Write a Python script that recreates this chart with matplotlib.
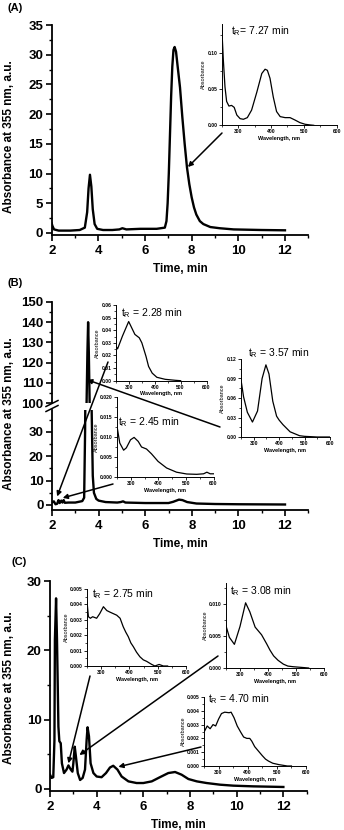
import matplotlib
matplotlib.use("Agg")
import matplotlib.pyplot as plt
from matplotlib.ticker import MultipleLocator, FormatStrFormatter
from matplotlib.lines import Line2D

plt.rcParams['font.family'] = ['Liberation Sans', 'DejaVu Sans']
plt.rcParams['mathtext.default'] = 'regular'

# ---------------- data ----------------
# Panel A chromatogram
a_time = [2.0, 2.03, 2.1, 2.3, 2.8, 3.2, 3.42, 3.52, 3.58, 3.64, 3.7, 3.76, 3.84, 3.95, 4.2, 4.6,
          4.9, 5.03, 5.2, 5.8, 6.5, 6.85, 6.92, 6.97, 7.02, 7.07, 7.12, 7.17, 7.22, 7.27, 7.33, 7.4,
          7.5, 7.6, 7.7, 7.8, 7.9, 8.0, 8.1, 8.2, 8.35, 8.5, 8.8, 9.2, 9.8, 11.0, 12.0]
a_abs = [1.6, 1.2, 0.6, 0.4, 0.4, 0.5, 0.9, 3.5, 7.5, 9.8, 7.8, 4.0, 1.5, 0.7, 0.5, 0.5,
         0.6, 0.8, 0.6, 0.7, 0.7, 0.9, 2.0, 5.0, 10.0, 16.5, 23.0, 28.0, 30.8, 31.3, 30.5, 28.0,
         24.5, 19.5, 15.0, 11.0, 8.2, 6.0, 4.3, 3.1, 2.0, 1.5, 1.0, 0.8, 0.6, 0.5, 0.45]
a_wl = [250, 255, 260, 265, 272, 280, 288, 296, 306, 316, 328, 341, 357, 372, 382, 389, 397, 407,
        417, 428, 443, 458, 473, 488, 504, 519, 530]
a_spec = [0.138, 0.090, 0.053, 0.033, 0.0266, 0.0275, 0.0248, 0.0142, 0.0092, 0.0083, 0.0106, 0.021,
          0.046, 0.0716, 0.0775, 0.076, 0.065, 0.039, 0.019, 0.012, 0.0106, 0.0106, 0.0073, 0.0037,
          0.0014, 0.0005, 0.0]

# Panel B chromatogram
b_time = [2.0, 2.08, 2.15, 2.22, 2.28, 2.33, 2.4, 2.45, 2.5, 2.55, 2.7, 3.0, 3.3, 3.38, 3.42, 3.47,
          3.52, 3.55, 3.58, 3.63, 3.7, 3.75, 3.8, 3.9, 4.0, 4.3, 4.8, 4.95, 5.05, 5.15, 6.0, 7.0,
          7.2, 7.45, 7.6, 7.8, 8.2, 9.0, 10.0, 12.0]
b_abs = [1.0, 1.5, 0.3, 0.5, 2.0, 0.8, 1.8, 1.0, 2.0, 0.9, 1.0, 1.0, 1.6, 3.0, 30.0, 90.0,
         125.0, 140.0, 125.0, 90.0, 40.0, 12.0, 5.0, 2.5, 1.8, 1.2, 1.0, 1.2, 1.5, 1.0, 0.8, 0.8,
         1.3, 2.2, 2.0, 1.2, 0.6, 0.4, 0.3, 0.2]
b1_wl = [250, 256, 275, 299, 323, 340, 350, 366, 376, 390, 408, 440, 480, 500]
b1_spec = [0.0273, 0.0252, 0.0354, 0.0469, 0.0367, 0.034, 0.030, 0.0193, 0.0113, 0.006, 0.0027,
           0.0011, 0.0003, 0.0]
b2_wl = [250, 260, 274, 284, 299, 312, 327, 339, 357, 375, 399, 430, 466, 503, 539, 564, 576, 588, 600]
b2_spec = [0.0127, 0.0085, 0.0067, 0.0073, 0.0093, 0.0099, 0.0089, 0.0075, 0.0070, 0.0058, 0.0039,
           0.00225, 0.0012, 0.00075, 0.00067, 0.0008, 0.0012, 0.0008, 0.0008]
b3_wl = [250, 260, 275, 295, 315, 333, 348, 360, 375, 390, 400, 415, 443, 480, 500, 550, 600]
b3_spec = [0.088, 0.062, 0.038, 0.023, 0.040, 0.090, 0.111, 0.097, 0.055, 0.032, 0.026, 0.019,
           0.008, 0.002, 0.001, 0.0, 0.0]

# Panel C chromatogram
c_time = [2.0, 2.07, 2.14, 2.19, 2.21, 2.26, 2.3, 2.36, 2.4, 2.46, 2.51, 2.6, 2.71, 2.79, 2.89,
          2.96, 3.0, 3.06, 3.11, 3.19, 3.29, 3.4, 3.5, 3.57, 3.61, 3.67, 3.74, 3.86, 4.0, 4.21,
          4.4, 4.57, 4.71, 4.89, 5.07, 5.36, 5.71, 6.0, 6.36, 6.71, 7.07, 7.36, 7.64, 7.93, 8.29,
          8.71, 9.29, 9.86, 10.71, 12.0]
c_abs = [2.06, 1.6, 1.7, 7.0, 21.5, 27.5, 21.5, 9.0, 6.9, 6.6, 3.7, 2.3, 2.8, 3.4, 2.8,
         2.5, 3.7, 6.1, 4.7, 2.3, 1.3, 1.6, 2.8, 7.1, 8.9, 7.6, 3.7, 2.3, 1.8, 1.7,
         2.3, 3.1, 3.35, 2.8, 1.8, 1.1, 0.86, 0.86, 1.1, 1.7, 2.3, 2.45, 2.06, 1.44, 1.1,
         0.86, 0.62, 0.48, 0.38, 0.29]
c1_wl = [250, 255, 262, 270, 284, 295, 308, 320, 331, 343, 355, 367, 378, 387, 396, 405, 414,
         425, 437, 449, 461, 470, 479, 490, 505, 520, 535]
c1_spec = [0.0042, 0.0032, 0.0031, 0.0032, 0.0031, 0.0034, 0.00385, 0.0036, 0.0035, 0.0034,
           0.0033, 0.0031, 0.00255, 0.0022, 0.0019, 0.0015, 0.00125, 0.0009, 0.0006, 0.0004,
           0.0003, 0.0002, 0.0001, 0.0, 0.0001, 0.0, 0.0]
c2_wl = [250, 262, 280, 300, 320, 335, 354, 377, 395, 407, 420, 436, 455, 471, 490, 518, 545]
c2_spec = [0.0066, 0.0048, 0.0037, 0.0065, 0.0102, 0.0088, 0.0064, 0.0052, 0.0038, 0.0028,
           0.0019, 0.0012, 0.0006, 0.0003, 0.0002, 0.0001, 0.0]
c3_wl = [250, 261, 271, 281, 290, 300, 310, 321, 336, 343, 353, 364, 376, 386, 397, 407, 414,
         424, 436, 450, 461, 471, 486, 507, 536, 550]
c3_spec = [0.00245, 0.0029, 0.0027, 0.0030, 0.0029, 0.0034, 0.0038, 0.0039, 0.00386, 0.0039,
           0.0035, 0.0029, 0.00245, 0.0021, 0.0020, 0.0020, 0.0018, 0.0014, 0.0011, 0.00075,
           0.0005, 0.00036, 0.0002, 0.0001, 0.0, 0.0]

x_ticks = [2, 4, 6, 8, 10, 12]
wl_ticks = [300, 400, 500, 600]

# ---------------- layout helpers ----------------
W, H = 344, 830
fig = plt.figure(figsize=(W / 100, H / 100), dpi=100)


def px_axes(x0, y0, x1, y1):
    return fig.add_axes([x0 / W, 1 - y1 / H, (x1 - x0) / W, (y1 - y0) / H])


def style_main(ax):
    for s in ['top', 'right']:
        ax.spines[s].set_visible(False)
    for s in ['left', 'bottom']:
        ax.spines[s].set_linewidth(1.3)
    ax.tick_params(which='major', direction='out', length=4, width=1.2,
                   labelsize=9.5, pad=2)
    ax.tick_params(axis='x', which='major', pad=3)
    ax.tick_params(which='minor', direction='out', length=2.2, width=1.0)
    for lab in ax.get_xticklabels() + ax.get_yticklabels():
        lab.set_fontweight('bold')
    ax.patch.set_alpha(0)


def set_xaxis(ax):
    ax.set_xlim(2, 13)
    ax.set_xticks(x_ticks)
    ax.xaxis.set_minor_locator(MultipleLocator(1))
    ax.set_xticklabels([str(t) for t in x_ticks], fontweight='bold')


def inset(x0, y0, x1, y1, wl, spec, ymax, ystep, fmt, label, tx, ty):
    ax = px_axes(x0, y0, x1, y1)
    ax.plot(wl, spec, color='black', lw=0.9)
    ax.set_xlim(250, 600)
    ax.set_ylim(0, ymax)
    ax.set_xticks(wl_ticks)
    ax.xaxis.set_minor_locator(MultipleLocator(50))
    ax.yaxis.set_major_locator(MultipleLocator(ystep))
    ax.yaxis.set_minor_locator(MultipleLocator(ystep / 2))
    ax.yaxis.set_major_formatter(FormatStrFormatter(fmt))
    for s in ['top', 'right']:
        ax.spines[s].set_visible(False)
    for s in ['left', 'bottom']:
        ax.spines[s].set_linewidth(0.7)
    ax.tick_params(which='major', direction='out', length=2, width=0.6, labelsize=3.6, pad=1)
    ax.tick_params(which='minor', direction='out', length=1.2, width=0.5)
    for lab in ax.get_xticklabels() + ax.get_yticklabels():
        lab.set_fontweight('bold')
    ax.set_xlabel('Wavelength, nm', fontsize=4, fontweight='bold', labelpad=1)
    ax.set_ylabel('Absorbance', fontsize=4, labelpad=1)
    ax.patch.set_alpha(0)
    ax.text(tx, ty, label, transform=ax.transAxes, fontsize=7.5, ha='left', va='center')
    return ax


arrow_kw = dict(arrowstyle='-|>', color='black', lw=1.1, mutation_scale=7,
                shrinkA=0, shrinkB=0)


def arrow(ax, tip, tail_px):
    ax.annotate('', xy=tip, xycoords='data',
                xytext=(tail_px[0] / W, 1 - tail_px[1] / H), textcoords='figure fraction',
                arrowprops=arrow_kw, annotation_clip=False)


# ---------------- Panel A ----------------
axA = px_axes(51.7, 25, 308.3, 235)
axA.plot(a_time, a_abs, color='black', lw=1.7)
set_xaxis(axA)
axA.set_ylim(-0.34, 35)
axA.set_yticks([0, 5, 10, 15, 20, 25, 30, 35])
axA.yaxis.set_minor_locator(MultipleLocator(2.5))
style_main(axA)
axA.set_xlabel('Time, min', fontsize=8.5, fontweight='bold', labelpad=4.5)
fig.text(9.5 / W, 1 - 137 / H, 'Absorbance at 355 nm, a.u.', rotation=90, fontsize=8.5,
         fontweight='bold', ha='center', va='center')
fig.text(7 / W, 1 - 8 / H, '(A)', fontsize=8, fontweight='bold', ha='left', va='center')
inset(221.7, 24, 336.7, 125.3, a_wl, a_spec, 0.14, 0.05, '%.2f',
      r't$_{\mathregular{R}}$= 7.27 min', 0.08, 0.93)
arrow(axA, (7.84, 11.1), (222, 133))

# ---------------- Panel B ----------------
axBu = px_axes(52, 302, 308.3, 403)
axBl = px_axes(52, 410, 308.3, 510)
for ax in (axBu, axBl):
    ax.plot(b_time, b_abs, color='black', lw=1.7)
    set_xaxis(ax)
axBu.set_ylim(100, 150)
axBu.set_yticks([100, 110, 120, 130, 140, 150])
axBu.yaxis.set_minor_locator(MultipleLocator(5))
axBl.set_ylim(-2.06, 39)
axBl.set_yticks([0, 10, 20, 30])
axBl.yaxis.set_minor_locator(MultipleLocator(5))
style_main(axBu)
style_main(axBl)
axBu.spines['bottom'].set_visible(False)
axBu.tick_params(axis='x', which='both', bottom=False, labelbottom=False)
axBl.set_xlabel('Time, min', fontsize=8.5, fontweight='bold', labelpad=4.5)
fig.text(9.5 / W, 1 - 414 / H, 'Absorbance at 355 nm, a.u.', rotation=90, fontsize=8.5,
         fontweight='bold', ha='center', va='center')
fig.text(7 / W, 1 - 283 / H, '(B)', fontsize=8, fontweight='bold', ha='left', va='center')
for yy in (403.5, 408.5):
    fig.add_artist(Line2D([46 / W, 58 / W], [1 - (yy + 3) / H, 1 - (yy - 3) / H],
                          color='black', lw=1.1))
inset(116, 305, 206.5, 380.7, b1_wl, b1_spec, 0.06, 0.01, '%.2f',
      r't$_{\mathregular{R}}$ = 2.28 min', 0.05, 0.89)
inset(117, 397, 213.5, 477, b2_wl, b2_spec, 0.02, 0.005, '%.3f',
      r't$_{\mathregular{R}}$ = 2.45 min', 0.01, 0.69)
inset(241, 359, 330, 437, b3_wl, b3_spec, 0.12, 0.03, '%.2f',
      r't$_{\mathregular{R}}$ = 3.57 min', 0.08, 1.08)
arrow(axBl, (2.22, 3.5), (108, 362))
arrow(axBl, (2.46, 2.9), (113, 484))
arrow(axBu, (3.51, 111.5), (220, 427))

# ---------------- Panel C ----------------
axC = px_axes(50, 581, 306.7, 791)
axC.plot(c_time, c_abs, color='black', lw=1.7)
set_xaxis(axC)
axC.set_ylim(-0.29, 30)
axC.set_yticks([0, 10, 20, 30])
axC.yaxis.set_minor_locator(MultipleLocator(5))
style_main(axC)
axC.set_xlabel('Time, min', fontsize=8.5, fontweight='bold', labelpad=4.5)
fig.text(9 / W, 1 - 688 / H, 'Absorbance at 355 nm, a.u.', rotation=90, fontsize=8.5,
         fontweight='bold', ha='center', va='center')
fig.text(12 / W, 1 - 562 / H, '(C)', fontsize=8, fontweight='bold', ha='left', va='center')
inset(87, 589, 186, 666, c1_wl, c1_spec, 0.005, 0.001, '%.3f',
      r't$_{\mathregular{R}}$ = 2.75 min', 0.05, 0.94)
inset(226, 583, 324, 668, c2_wl, c2_spec, 0.0133, 0.005, '%.3f',
      r't$_{\mathregular{R}}$ = 3.08 min', 0.04, 0.9)
inset(204, 697, 306, 766, c3_wl, c3_spec, 0.005, 0.001, '%.3f',
      r't$_{\mathregular{R}}$ = 4.70 min', 0.04, 0.97)
arrow(axC, (2.79, 3.7), (90, 676))
arrow(axC, (3.26, 4.9), (218, 656))
arrow(axC, (4.93, 3.2), (201, 747))

fig.savefig('out.png', dpi=100)
